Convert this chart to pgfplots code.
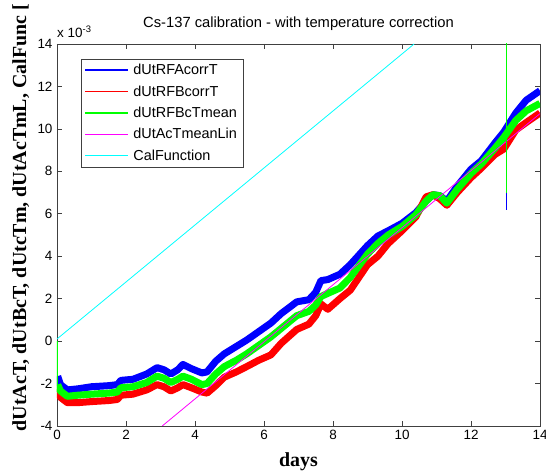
\documentclass[border=0pt]{standalone}
\usepackage{fontspec}
\setmainfont{Liberation Sans}
\newfontfamily\labelfont{Liberation Serif}
\usepackage{pgfplots}
\pgfplotsset{compat=1.18}
\definecolor{mblue}{RGB}{0,0,255}
\definecolor{mred}{RGB}{255,0,0}
\definecolor{mgreen}{RGB}{0,255,0}
\definecolor{mmagenta}{RGB}{255,0,255}
\definecolor{mcyan}{RGB}{0,255,255}

% values in units of 1e-3
\pgfplotstableread{
x      blue    green   red
0.02   -1.65   -2.05   -2.25
0.10   -2.05   -2.35   -2.65
0.30   -2.30   -2.60   -2.90
0.60   -2.25   -2.55   -2.90
1.00   -2.15   -2.50   -2.85
1.50   -2.10   -2.45   -2.80
1.75   -2.05   -2.40   -2.75
1.85   -1.85   -2.20   -2.55
2.20   -1.80   -2.15   -2.50
2.60   -1.55   -1.95   -2.30
2.90   -1.25   -1.65   -2.05
3.10   -1.35   -1.75   -2.15
3.30   -1.55   -1.95   -2.35
3.50   -1.35   -1.80   -2.20
3.65   -1.10   -1.65   -2.05
3.90   -1.30   -1.80   -2.20
4.20   -1.50   -2.05   -2.40
4.35   -1.45   -2.00   -2.45
4.60   -0.95   -1.55   -2.10
4.85   -0.60   -1.20   -1.70
5.20   -0.25   -0.90   -1.45
5.50    0.05   -0.60   -1.20
5.85    0.45   -0.20   -0.90
6.20    0.85    0.20   -0.65
6.50    1.30    0.60   -0.10
6.95    1.85    1.20    0.55
7.30    1.95    1.40    0.80
7.50    2.30    1.70    1.20
7.65    2.85    2.10    1.75
7.85    2.90    2.25    1.50
8.20    3.15    2.50    2.00
8.50    3.60    3.00    2.40
9.00    4.50    4.10    3.60
9.30    4.95    4.60    4.00
9.60    5.20    5.00    4.60
10.00   5.55    5.40    5.20
10.40   6.05    5.95    5.85
10.70   6.60    6.60    6.80
10.90   6.90    6.90    6.90
11.10   6.85    6.85    6.70
11.30   6.60    6.50    6.40
11.60   7.30    7.15    7.00
12.00   8.10    7.90    7.70
12.30   8.50    8.35    8.15
12.70   9.35    9.10    8.80
12.95   9.85    9.60    9.05
13.30  10.75   10.40    9.95
13.60  11.35   10.85   10.30
14.00  11.80   11.20   10.75
}\drifttable

\newcommand{\legfont}{\fontsize{14.5}{17}\selectfont}

\begin{document}
\begin{tikzpicture}
\begin{axis}[
    width=483bp, height=382bp, scale only axis,
    xmin=0, xmax=14, ymin=-4, ymax=14,
    xtick={0,2,...,14}, ytick={-4,-2,...,14},
    tick align=inside, tick pos=both,
    major tick length=5bp,
    axis line style={black!75, line width=0.6pt},
    every tick/.style={black!75, line width=0.6pt},
    tick label style={font=\fontsize{13.5}{15}\selectfont},
    /pgf/number format/assume math mode=true,
    yticklabel style={xshift=-1bp},
    xticklabel style={yshift=-1bp},
    title={Cs-137 calibration - with temperature correction},
    title style={font=\fontsize{14.8}{16}\selectfont, at={(axis description cs:0.5,1)}, anchor=base, yshift=11bp},
    xlabel={days},
    xlabel style={font=\labelfont\bfseries\fontsize{20}{24}\selectfont, at={(axis description cs:0.5,-0.094)}, anchor=center},
    ylabel={dUtAcT, dUtBcT, dUtcTm, dUtAcTmL, CalFunc [},
    ylabel style={font=\labelfont\bfseries\fontsize{20}{24}\selectfont, at={(axis description cs:-0.075,1.105)}, anchor=east, inner sep=0pt},
    legend style={at={(0.05,0.961)}, anchor=north west, draw=black!75, fill=white,
        cells={anchor=west}, row sep=5.5bp, column sep=3bp,
        inner xsep=4bp, inner ysep=3bp},
    legend image code/.code={\fill[#1, draw=none] (0bp,-0.6bp) rectangle (43bp,0.6bp);},
    clip=true,
]
\addplot[mblue, line width=7bp, line join=round, forget plot] table[x=x, y=blue] {\drifttable};
\addplot[mred, line width=7bp, line join=round, forget plot] table[x=x, y=red] {\drifttable};
\addplot[mgreen, line width=7bp, line join=round, forget plot] table[x=x, y=green] {\drifttable};
\addplot[mmagenta, line width=0.8pt, forget plot] coordinates {(3.05,-4) (14,10.72)};
\addplot[mcyan, line width=0.8pt, forget plot] coordinates {(0,0.1) (10.35,14)};
% start jump and outlier spike
\addplot[mgreen, line width=1.6pt, forget plot] coordinates {(0,0) (0,-2.4)};
\addplot[mgreen, line width=1.6pt, forget plot] coordinates {(13.03,15) (13.03,7.0)};
\addplot[mblue, line width=1pt, forget plot] coordinates {(13.03,7.0) (13.03,6.2)};
\addlegendimage{fill=mblue}
\addlegendentry{\legfont dUtRFAcorrT}
\addlegendimage{fill=mred}
\addlegendentry{\legfont dUtRFBcorrT}
\addlegendimage{fill=mgreen}
\addlegendentry{\legfont dUtRFBcTmean}
\addlegendimage{fill=mmagenta}
\addlegendentry{\legfont dUtAcTmeanLin}
\addlegendimage{fill=mcyan}
\addlegendentry{\legfont CalFunction}
\end{axis}
\pgfresetboundingbox
\path[use as bounding box] ([xshift=-57bp,yshift=-46bp]current axis.south west) rectangle ([xshift=6bp,yshift=44bp]current axis.north east);
\node[anchor=south west, font=\fontsize{13.5}{15}\selectfont, inner sep=0pt] at ([yshift=6bp]current axis.north west) {x 10\textsuperscript{-3}};
\end{tikzpicture}
\end{document}
